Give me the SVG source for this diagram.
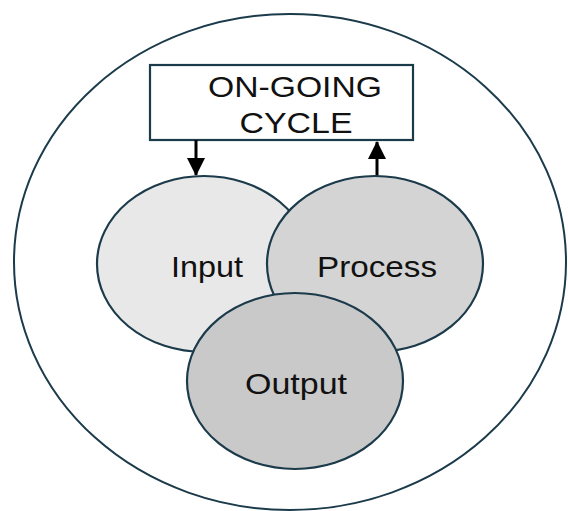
<svg xmlns="http://www.w3.org/2000/svg" width="568" height="511" viewBox="0 0 568 511">
  <style>
    .ring { fill: #ffffff; stroke: #1b3a4a; stroke-width: 2; }
    .node { stroke: #1b3a4a; stroke-width: 2.2; }
    .lbl { font-family: "Liberation Sans", Arial, sans-serif; font-size: 30px; fill: #111111; text-anchor: middle; }
    .link { stroke: #000000; stroke-width: 3; fill: none; }
  </style>
  <defs>
    <marker id="head" markerUnits="userSpaceOnUse" markerWidth="20" markerHeight="18" refX="17" refY="9" orient="auto">
      <path d="M0,0 L18,9 L0,18 Z" fill="#000000"/>
    </marker>
  </defs>

  <rect width="568" height="511" fill="#ffffff"/>

  <!-- enclosing boundary -->
  <ellipse class="ring" cx="290" cy="262" rx="276" ry="248"/>

  <g id="cycle">
    <rect x="150" y="65" width="263" height="75" fill="#ffffff" stroke="#1b3a4a" stroke-width="2.2"/>
    <text class="lbl" x="295" y="97" textLength="174" lengthAdjust="spacingAndGlyphs">ON-GOING</text>
    <text class="lbl" x="296" y="133" textLength="113" lengthAdjust="spacingAndGlyphs">CYCLE</text>
  </g>

  <g id="connectors">
    <line class="link" x1="196" y1="140" x2="196" y2="175" marker-end="url(#head)"/>
    <line class="link" x1="377" y1="176" x2="377" y2="142" marker-end="url(#head)"/>
  </g>

  <g id="input">
    <ellipse class="node" cx="204" cy="264" rx="107" ry="88" fill="#e8e8e8"/>
    <text class="lbl" x="207" y="277" textLength="72" lengthAdjust="spacingAndGlyphs">Input</text>
  </g>

  <g id="process">
    <ellipse class="node" cx="375" cy="264" rx="108" ry="88" fill="#d4d4d4"/>
    <text class="lbl" x="377" y="277" textLength="120" lengthAdjust="spacingAndGlyphs">Process</text>
  </g>

  <g id="output">
    <ellipse class="node" cx="295" cy="381" rx="108" ry="88" fill="#c9c9c9"/>
    <text class="lbl" x="296" y="394" textLength="102" lengthAdjust="spacingAndGlyphs">Output</text>
  </g>
</svg>
